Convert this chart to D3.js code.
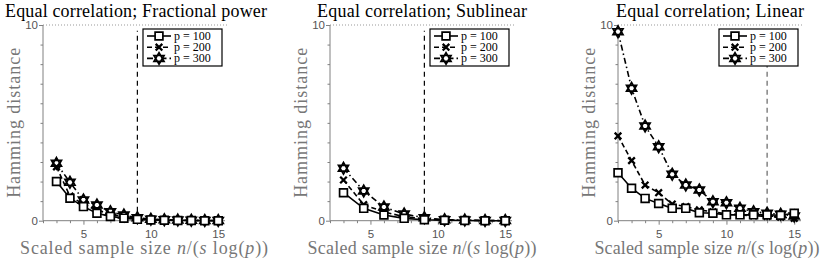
<!DOCTYPE html>
<html>
<head>
<meta charset="utf-8">
<script src="https://cdn.jsdelivr.net/npm/d3@7"></script>
<style>
  body { margin: 0; background: #fff; }
  svg { display: block; }
  .serif { font-family: "Liberation Serif", "Times New Roman", serif; }
  .sans { font-family: "Liberation Sans", Arial, sans-serif; }
</style>
</head>
<body>
<script>
// data
var titles = ["Equal correlation; Fractional power", "Equal correlation; Sublinear", "Equal correlation; Linear"];
var seriesNames = ["p = 100", "p = 200", "p = 300"];

var xFrac = [3, 4, 5, 6, 7, 8, 9, 10, 11, 12, 13, 14, 15];
var frac100 = [2.0, 1.15, 0.72, 0.38, 0.22, 0.13, 0.07, 0.04, 0.02, 0.01, 0.01, 0.0, 0.0];
var frac200 = [2.75, 1.25, 0.85, 0.55, 0.33, 0.2, 0.11, 0.06, 0.04, 0.02, 0.01, 0.01, 0.0];
var frac300 = [2.93, 1.96, 1.06, 0.8, 0.46, 0.29, 0.15, 0.08, 0.05, 0.03, 0.02, 0.01, 0.01];
var fracCut = 9;

var xSub = [3, 4.5, 6, 7.5, 9, 10.5, 12, 13.5, 15];
var sub100 = [1.43, 0.63, 0.29, 0.12, 0.05, 0.02, 0.01, 0.0, 0.0];
var sub200 = [2.08, 0.82, 0.45, 0.2, 0.1, 0.03, 0.02, 0.01, 0.0];
var sub300 = [2.68, 1.52, 0.7, 0.34, 0.15, 0.05, 0.03, 0.01, 0.01];
var subCut = 9;

var xLin = [2, 3, 4, 5, 6, 7, 8, 9, 10, 11, 12, 13, 14, 15];
var lin100 = [2.45, 1.66, 1.14, 0.88, 0.63, 0.63, 0.41, 0.38, 0.3, 0.3, 0.3, 0.3, 0.28, 0.38];
var lin200 = [4.33, 3.07, 1.82, 1.43, 0.85, 0.72, 0.55, 0.45, 0.35, 0.3, 0.25, 0.22, 0.18, 0.12];
var lin300 = [9.66, 6.77, 4.84, 3.78, 2.37, 1.82, 1.57, 0.97, 0.92, 0.63, 0.46, 0.38, 0.33, 0.24];
var linCut = 13;

var xMajor = [5, 10, 15];
var yMajor = [0, 10];

var panels = [
  { title: titles[0], x: xFrac, ys: [frac100, frac200, frac300], cut: fracCut, left: 43, right: 225, cutColor: "#000",
    titleX: 136, titleLen: 262, labelX: 144, labelLen: 248 },
  { title: titles[1], x: xSub, ys: [sub100, sub200, sub300], cut: subCut, left: 330, right: 512, cutColor: "#000",
    titleX: 422, titleLen: 210, labelX: 422, labelLen: 229 },
  { title: titles[2], x: xLin, ys: [lin100, lin200, lin300], cut: linCut, left: 618, right: 801, cutColor: "#666",
    titleX: 710, titleLen: 188, labelX: 707, labelLen: 225 }
];

var width = 830, height = 260;
var plotTop = 25, plotBottom = 220.7;
var axisGrey = "#808080";

var dashes = [null, "5,3", "6,3,1.5,3"];

// marker shapes
function squarePath(s) {
  return "M" + -s + "," + -s + "H" + s + "V" + s + "H" + -s + "Z";
}
function crossPath(s) {
  return "M" + -s + "," + -s + "L" + s + "," + s + "M" + s + "," + -s + "L" + -s + "," + s;
}
function hexagramPath(r) {
  var p = "";
  [0, 1].forEach(function(k) {
    for (var i = 0; i < 3; i++) {
      var a = -Math.PI / 2 + k * Math.PI + i * 2 * Math.PI / 3;
      p += (i == 0 ? "M" : "L") + (r * Math.cos(a)).toFixed(2) + "," + (r * Math.sin(a)).toFixed(2);
    }
    p += "Z";
  });
  return p;
}
var markers = [
  function() { return squarePath(3.9); },
  function() { return crossPath(3.3); },
  function() { return hexagramPath(5.8); }
];
var markerWidths = [1.7, 2.3, 1.7];

var svg = d3.select("body")
  .append("svg")
  .attr("width", width)
  .attr("height", height);

var y = d3.scaleLinear().domain([0, 10]).range([plotBottom, plotTop]);

panels.forEach(function(p) {
  var g = svg.append("g");
  var x = d3.scaleLinear().domain([2, 15.5]).range([p.left, p.right]);

  // title
  g.append("text")
    .attr("class", "serif")
    .attr("x", p.titleX)
    .attr("y", 17)
    .attr("text-anchor", "middle")
    .attr("textLength", p.titleLen)
    .attr("lengthAdjust", "spacing")
    .style("font-size", "18px")
    .style("fill", "#000")
    .text(p.title);

  // dotted line at the top
  g.append("line")
    .attr("x1", x(2)).attr("x2", x(15.5) + 2)
    .attr("y1", y(10)).attr("y2", y(10))
    .attr("stroke", "#999")
    .attr("stroke-width", 1)
    .attr("stroke-dasharray", "1,2");

  // x axis
  var xAxis = d3.axisBottom(x)
    .tickValues(d3.range(2, 16))
    .tickSize(3)
    .tickFormat(function(d) { return xMajor.indexOf(d) >= 0 ? d : ""; });
  var gx = g.append("g")
    .attr("transform", "translate(0," + plotBottom + ")")
    .call(xAxis);
  gx.select(".domain").attr("stroke", axisGrey).attr("d", "M" + x(2) + ",0H" + x(15.5));
  gx.selectAll(".tick line").attr("stroke", axisGrey)
    .attr("y2", function(d) { return xMajor.indexOf(d) >= 0 ? 4 : 2.5; });
  gx.selectAll(".tick text")
    .attr("class", "sans")
    .attr("y", 9)
    .style("font-size", "11.5px")
    .style("fill", "#555");

  // y axis
  var yAxis = d3.axisLeft(y)
    .tickValues(d3.range(0, 11))
    .tickSize(3)
    .tickFormat(function(d) { return yMajor.indexOf(d) >= 0 ? d : ""; });
  var gy = g.append("g")
    .attr("transform", "translate(" + p.left + ",0)")
    .call(yAxis);
  gy.select(".domain").attr("stroke", axisGrey).attr("d", "M0," + y(0) + "V" + y(10));
  gy.selectAll(".tick line").attr("stroke", axisGrey)
    .attr("x2", function(d) { return yMajor.indexOf(d) >= 0 ? -4 : -2.5; });
  gy.selectAll(".tick text")
    .attr("class", "sans")
    .attr("x", -5)
    .style("font-size", "11.5px")
    .style("fill", "#555");

  // axis labels
  g.append("text")
    .attr("class", "serif")
    .attr("x", p.labelX)
    .attr("y", 254)
    .attr("text-anchor", "middle")
    .attr("textLength", p.labelLen)
    .attr("lengthAdjust", "spacing")
    .style("font-size", "18px")
    .style("fill", "#777")
    .html("Scaled sample size <tspan font-style='italic'>n</tspan>/(<tspan font-style='italic'>s</tspan> log(<tspan font-style='italic'>p</tspan>))");

  g.append("text")
    .attr("class", "serif")
    .attr("transform", "translate(" + (p.left - 23) + "," + ((plotTop + plotBottom) / 2) + ") rotate(-90)")
    .attr("text-anchor", "middle")
    .attr("textLength", 150)
    .attr("lengthAdjust", "spacing")
    .style("font-size", "18px")
    .style("fill", "#777")
    .text("Hamming distance");

  // vertical cut-off line
  g.append("line")
    .attr("x1", x(p.cut)).attr("x2", x(p.cut))
    .attr("y1", y(0)).attr("y2", y(9.7))
    .attr("stroke", p.cutColor)
    .attr("stroke-width", 1.2)
    .attr("stroke-dasharray", "5,4");

  // series lines and markers, drawn from p=300 down
  var line = d3.line()
    .x(function(d) { return x(d[0]); })
    .y(function(d) { return y(d[1]); });

  [2, 1, 0].forEach(function(s) {
    var pts = p.x.map(function(v, i) { return [v, p.ys[s][i]]; });
    g.append("path")
      .datum(pts)
      .attr("d", line)
      .attr("fill", "none")
      .attr("stroke", "#000")
      .attr("stroke-width", 1.6)
      .attr("stroke-dasharray", dashes[s]);
    g.selectAll(".m" + s)
      .data(pts)
      .enter().append("path")
      .attr("class", "m" + s)
      .attr("transform", function(d) { return "translate(" + x(d[0]) + "," + y(d[1]) + ")"; })
      .attr("d", markers[s])
      .attr("fill", s == 1 ? "none" : "#fff")
      .attr("stroke", "#000")
      .attr("stroke-width", markerWidths[s]);
  });

  // legend
  var lx = p.right - 82, ly = 29;
  var lg = g.append("g").attr("transform", "translate(" + lx + "," + ly + ")");
  lg.append("rect")
    .attr("width", 79).attr("height", 37)
    .attr("fill", "#fff")
    .attr("stroke", "#000")
    .attr("stroke-width", 1.2);
  seriesNames.forEach(function(name, s) {
    var ry = 7 + s * 11.2;
    lg.append("line")
      .attr("x1", 4).attr("x2", 28)
      .attr("y1", ry).attr("y2", ry)
      .attr("stroke", "#000")
      .attr("stroke-width", 1.6)
      .attr("stroke-dasharray", dashes[s]);
    lg.append("path")
      .attr("transform", "translate(16," + ry + ")")
      .attr("d", markers[s])
      .attr("fill", s == 1 ? "none" : "#fff")
      .attr("stroke", "#000")
      .attr("stroke-width", markerWidths[s]);
    lg.append("text")
      .attr("class", "serif")
      .attr("x", 31).attr("y", ry + 3.5)
      .style("font-size", "12px")
      .style("fill", "#000")
      .text(name);
  });
});
</script>
</body>
</html>
